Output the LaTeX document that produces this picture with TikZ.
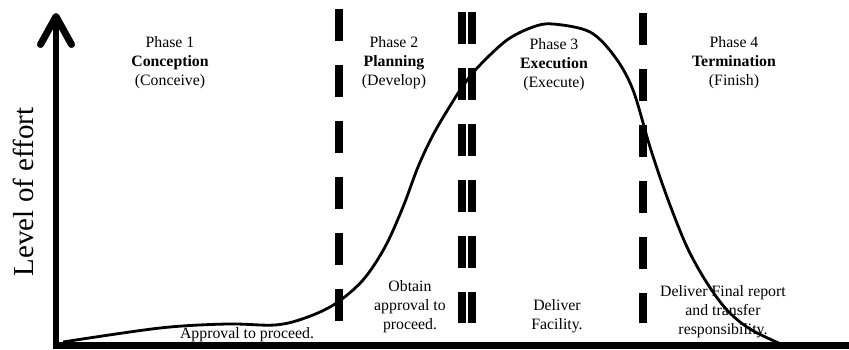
\documentclass[tikz,border=0pt]{standalone}
\usepackage{fontspec}
\setmainfont{Liberation Serif}
\usetikzlibrary{arrows.meta}

\tikzset{
  phasetext/.style={align=center, inner sep=0pt, font=\fontsize{9}{10.8}\selectfont},
  gate/.style={line width=0.15cm, dash pattern=on 0.64cm off 0.48cm},
  axis/.style={line width=0.14cm}
}

\begin{document}
\begin{tikzpicture}[x=0.02cm, y=0.02cm]
   \useasboundingbox (0,0) rectangle (849,349);
   % axes
   \coordinate (origin) at (56,2);
   \coordinate (ytop) at (56,336);
   \coordinate (xend) at (849,3.5);
   \draw[axis, -{Straight Barb[length=0.56cm, width=0.62cm, round]}] (origin) -- (ytop);
   \draw[line width=0.13cm] (52.5,3.5) -- (xend);
   \node[rotate=90, inner sep=0pt, font=\fontsize{16.5}{20}\selectfont] (ylabel) at (23,157) {Level of effort};

   % phase gates
   \foreach \x/\top in {339/340, 462/337, 472/337, 643/336}
      \draw[gate] (\x,\top) -- (\x,26);

   % effort curve
   \draw[line width=1.6pt] plot[smooth, tension=0.55] coordinates {
      (63,7) (160,21) (227,25) (275,24) (305,31) (335,45) (363,69)
      (385,102) (403,142) (418,182) (433,214) (450,243) (465,266)
      (480,284) (507,309) (533,322) (553,325) (590,317) (615,292)
      (633,259) (650,202) (667,152) (687,102) (707,66) (727,39)
      (750,20) (783,4)};

   % phase titles
   \node[phasetext] (p1) at (170,286) {Phase 1\\\textbf{Conception}\\(Conceive)};
   \node[phasetext] (p2) at (394,286) {Phase 2\\\textbf{Planning}\\(Develop)};
   \node[phasetext] (p3) at (554,284) {Phase 3\\\textbf{Execution}\\(Execute)};
   \node[phasetext] (p4) at (734,286) {Phase 4\\\textbf{Termination}\\(Finish)};

   % milestones
   \node[phasetext] (m1) at (247,14) {Approval to proceed.};
   \node[phasetext] (m2) at (410,42) {Obtain\\approval to\\proceed.};
   \node[phasetext] (m3) at (557,33) {Deliver\\Facility.};
   \node[phasetext] (m4) at (723,37) {Deliver Final report\\and transfer\\responsibility.};
\end{tikzpicture}
\end{document}
